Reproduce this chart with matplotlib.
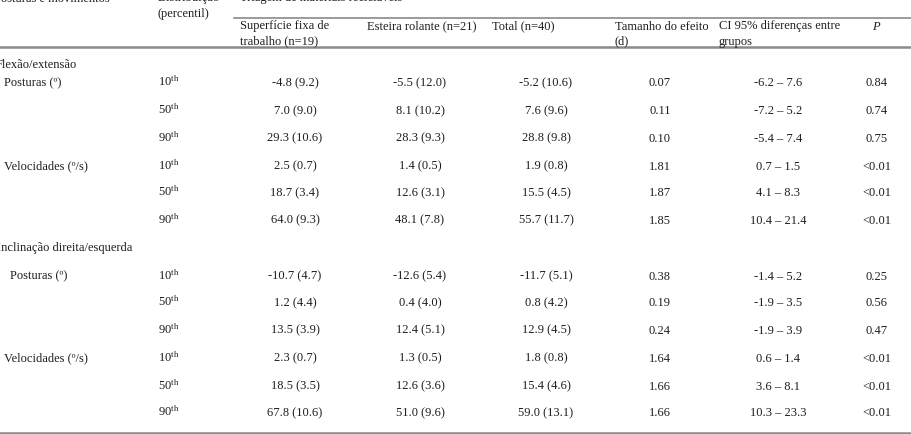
import matplotlib
matplotlib.use("Agg")
import matplotlib.pyplot as plt

plt.rcParams['font.family'] = ['Liberation Serif', 'DejaVu Serif']
plt.rcParams['mathtext.fontset'] = 'custom'
plt.rcParams['mathtext.rm'] = 'Liberation Serif'
plt.rcParams['mathtext.it'] = 'Liberation Serif:italic'

# Table data
groups = ["Flexão/extensão", "Inclinação direita/esquerda"]
measures = ["Posturas (º)", "Velocidades (º/s)"]
percentiles = ["10", "50", "90"]

fixa_mean = [-4.8, 7.0, 29.3, 2.5, 18.7, 64.0, -10.7, 1.2, 13.5, 2.3, 18.5, 67.8]
fixa_sd = [9.2, 9.0, 10.6, 0.7, 3.4, 9.3, 4.7, 4.4, 3.9, 0.7, 3.5, 10.6]
esteira_mean = [-5.5, 8.1, 28.3, 1.4, 12.6, 48.1, -12.6, 0.4, 12.4, 1.3, 12.6, 51.0]
esteira_sd = [12.0, 10.2, 9.3, 0.5, 3.1, 7.8, 5.4, 4.0, 5.1, 0.5, 3.6, 9.6]
total_mean = [-5.2, 7.6, 28.8, 1.9, 15.5, 55.7, -11.7, 0.8, 12.9, 1.8, 15.4, 59.0]
total_sd = [10.6, 9.6, 9.8, 0.8, 4.5, 11.7, 5.1, 4.2, 4.5, 0.8, 4.6, 13.1]
effect_d = [0.07, 0.11, 0.10, 1.81, 1.87, 1.85, 0.38, 0.19, 0.24, 1.64, 1.66, 1.66]
ci_low = [-6.2, -7.2, -5.4, 0.7, 4.1, 10.4, -1.4, -1.9, -1.9, 0.6, 3.6, 10.3]
ci_high = [7.6, 5.2, 7.4, 1.5, 8.3, 21.4, 5.2, 3.5, 3.9, 1.4, 8.1, 23.3]
p_values = ["0.84", "0.74", "0.75", "<0.01", "<0.01", "<0.01",
            "0.25", "0.56", "0.47", "<0.01", "<0.01", "<0.01"]

W, H = 912, 434
fig = plt.figure(figsize=(W / 100, H / 100), dpi=100)
ax = fig.add_axes([0, 0, 1, 1])
ax.set_xlim(0, W)
ax.set_ylim(H, 0)
ax.axis('off')

color = '#1e1e1e'
line_color = '#8a8a8a'
fs = 9


def put(x, y, s, ha='left', **kw):
    # y is the visual centre of the text line, baseline sits a bit below
    ax.text(x, y + 4.5, s, ha=ha, va='baseline', fontsize=fs, color=color, **kw)


# Header (first line is cut by the top edge, as in the source)
put(-6, -3, "Posturas e movimentos")
put(158, -3, "Distribuição")
put(240, -3, "Triagem de materiais recicláveis")
put(158, 13, "(percentil)")
ax.plot([234, W], [18, 18], color=line_color, lw=1.2)

col_x = [295, 420, 546, 660, 778, 877]
head_x = [240, 367, 492, 615, 719]
put(head_x[0], 25, "Superfície fixa de")
put(head_x[0], 40, "trabalho (n=19)")
put(head_x[1], 25, "Esteira rolante (n=21)")
put(head_x[2], 25, "Total (n=40)")
put(head_x[3], 25, "Tamanho do efeito")
put(head_x[3], 40, "(d)")
put(head_x[4], 25, "CI 95% diferenças entre")
put(head_x[4], 40, "grupos")
put(col_x[5], 25, "$\\mathit{P}$", ha='center')
ax.plot([0, W], [47, 47], color=line_color, lw=1.8)

# Body
group_y = [64, 247]
row_y = [[82, 110, 137, 165, 192, 219], [275, 302, 329, 357, 385, 412]]
label_x = [[4, 4], [10, 4]]
group_x = [-4, -3]

for g, group in enumerate(groups):
    put(group_x[g], group_y[g], group)
    for m, measure in enumerate(measures):
        put(label_x[g][m], row_y[g][m * 3], measure)
        for k, pc in enumerate(percentiles):
            i = g * 6 + m * 3 + k
            y = row_y[g][m * 3 + k]
            put(158, y, pc + "$^{\\mathrm{th}}$")
            put(col_x[0], y, f"{fixa_mean[i]:.1f} ({fixa_sd[i]:.1f})", ha='center')
            put(col_x[1], y, f"{esteira_mean[i]:.1f} ({esteira_sd[i]:.1f})", ha='center')
            put(col_x[2], y, f"{total_mean[i]:.1f} ({total_sd[i]:.1f})", ha='center')
            put(col_x[3], y, f"{effect_d[i]:.2f}", ha='center')
            put(col_x[4], y, f"{ci_low[i]:.1f} – {ci_high[i]:.1f}", ha='center')
            put(col_x[5], y, p_values[i], ha='center')

ax.plot([0, W], [433, 433], color=line_color, lw=1.8)

fig.savefig("out.png", dpi=100)
